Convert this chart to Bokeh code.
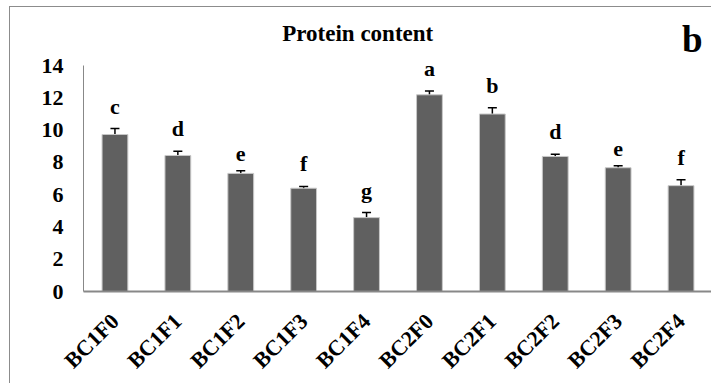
import math
from bokeh.plotting import figure
from bokeh.models import ColumnDataSource, Whisker, TeeHead, Label, FixedTicker, Range1d
from bokeh.core.properties import value
from bokeh.embed import file_html
from bokeh.resources import INLINE

categories = ["BC1F0", "BC1F1", "BC1F2", "BC1F3", "BC1F4",
              "BC2F0", "BC2F1", "BC2F2", "BC2F3", "BC2F4"]
protein = [9.73, 8.43, 7.32, 6.40, 4.58, 12.19, 11.00, 8.37, 7.67, 6.56]
error = [0.37, 0.26, 0.17, 0.11, 0.31, 0.23, 0.39, 0.13, 0.12, 0.37]
letters = ["c", "d", "e", "f", "g", "a", "b", "d", "e", "f"]
y_ticks = [0, 2, 4, 6, 8, 10, 12, 14]
title_text = "Protein content"
panel_tag = "b"

FONT = "Liberation Serif"

src = ColumnDataSource(dict(
    cat=categories,
    val=protein,
    upper=[v + e for v, e in zip(protein, error)],
    lower=[v - e for v, e in zip(protein, error)],
    letter=letters,
))

# frame reaches the top of the canvas; the value axis itself stops at 14
p = figure(x_range=categories, y_range=Range1d(0, 17.6),
           width=702, height=377, output_backend="svg", toolbar_location=None,
           min_border_left=73, min_border_top=0, min_border_bottom=92, min_border_right=0)
p.margin = (6, 0, 0, 9)
p.styles = {"border-top": "1px solid #8c8c8c", "border-left": "1px solid #8c8c8c"}

p.vbar(x="cat", top="val", width=0.41, source=src,
       fill_color="#606060", line_color="#c8c8c8", line_width=1)

wh = Whisker(base="cat", upper="upper", lower="lower", source=src,
             line_color="black", line_width=1.5,
             upper_head=TeeHead(size=9, line_color="black", line_width=1.5),
             lower_head=TeeHead(size=9, line_color="black", line_width=1.5))
p.add_layout(wh)

p.text(x="cat", y="upper", text="letter", source=src,
       text_align="center", text_baseline="bottom", y_offset=-10,
       text_font=value(FONT), text_font_size="22px", text_font_style="bold",
       text_color="black")

p.add_layout(Label(x=4.36, y=15.96, text=title_text, text_align="center",
                   text_baseline="alphabetic", text_font=FONT,
                   text_font_size="23px", text_font_style="bold",
                   text_color="black"))

p.add_layout(Label(x=9.68, y=15.64, text=panel_tag, text_align="center",
                   text_baseline="alphabetic", text_font=FONT,
                   text_font_size="37px", text_font_style="bold",
                   text_color="black"))

p.xgrid.grid_line_color = None
p.ygrid.grid_line_color = None
p.outline_line_color = None
p.background_fill_color = "white"
p.border_fill_color = "white"

p.yaxis.ticker = FixedTicker(ticks=y_ticks)
p.yaxis.bounds = (0, 14)
p.yaxis.minor_tick_line_color = None
p.yaxis.major_tick_line_color = None
p.yaxis.major_tick_out = 0
p.yaxis.major_tick_in = 0
p.yaxis.axis_line_color = "#888888"
p.yaxis.major_label_standoff = 20
p.yaxis.major_label_text_font = FONT
p.yaxis.major_label_text_font_size = "22px"
p.yaxis.major_label_text_font_style = "bold"
p.yaxis.major_label_text_color = "black"

p.xaxis.major_tick_line_color = None
p.xaxis.major_tick_out = 0
p.xaxis.major_tick_in = 0
p.xaxis.axis_line_color = "#888888"
p.xaxis.axis_line_width = 2
p.xaxis.major_label_orientation = math.pi / 4
p.xaxis.major_label_standoff = 26
p.xaxis.major_label_text_font = FONT
p.xaxis.major_label_text_font_size = "22px"
p.xaxis.major_label_text_font_style = "bold"
p.xaxis.major_label_text_color = "black"

open("out.html", "w").write(file_html(p, INLINE))
